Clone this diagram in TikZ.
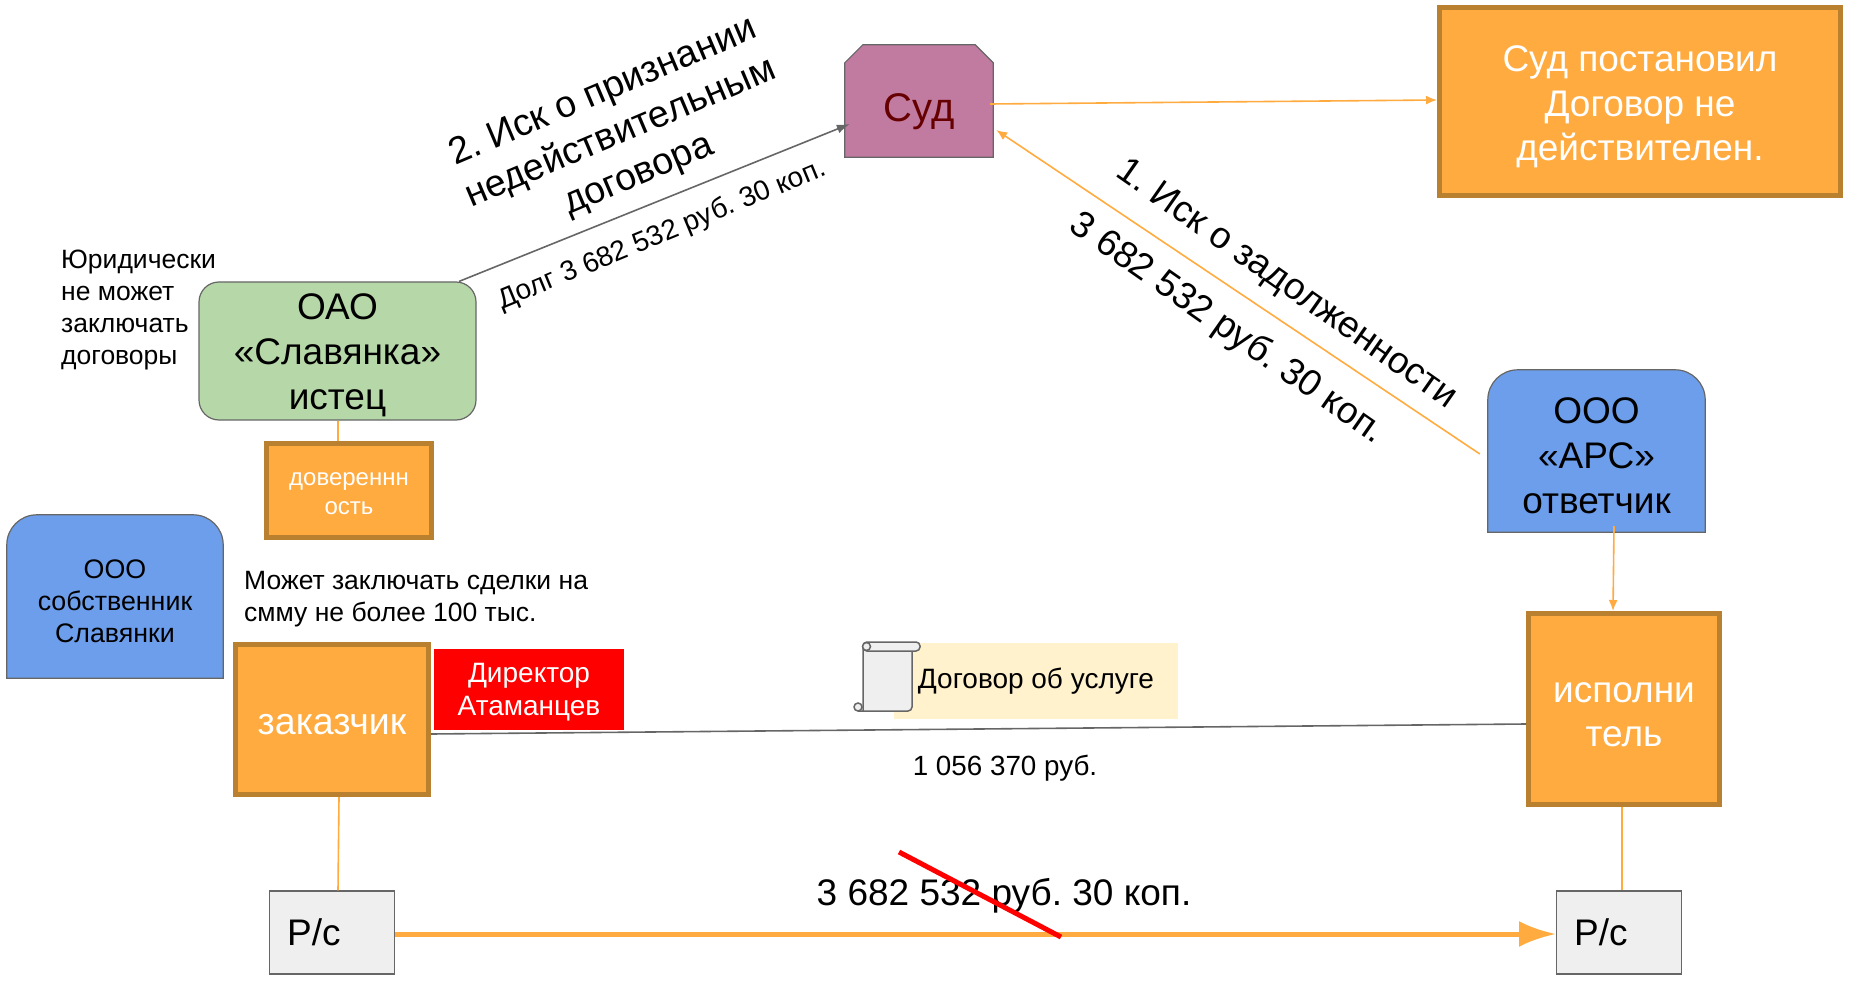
\documentclass[tikz,border=0pt]{standalone}
\usepackage{fontspec}
\setmainfont{Liberation Sans}
\usetikzlibrary{arrows.meta,backgrounds}
\definecolor{orangefill}{HTML}{FFAB40}
\definecolor{orangeedge}{HTML}{B9812F}
\definecolor{greyedge}{HTML}{666666}
\definecolor{courtfill}{HTML}{C27BA0}
\definecolor{courttext}{HTML}{660000}
\definecolor{greenfill}{HTML}{B6D7A8}
\definecolor{bluefill}{HTML}{6D9EEB}
\definecolor{paperfill}{HTML}{EFEFEF}
\definecolor{notefill}{HTML}{FFF2CC}
\newcommand{\lowered}[1]{\rule{0pt}{#1em}}
\begin{document}
\frenchspacing
\begin{tikzpicture}[
        x=1pt, y=-1pt,
        % boxes
        orangebox/.style={
            rectangle,
            draw=orangeedge,
            fill=orangefill,
            line width=5pt,
            text=white,
            align=center,
            inner sep=0pt
        },
        paperbox/.style={
            rectangle,
            draw=greyedge,
            fill=paperfill,
            line width=1.2pt,
            minimum width=125pt,
            minimum height=83pt,
            inner xsep=10pt,
            text width=90pt,
            align=left,
            font=\fontsize{37}{45}\selectfont
        },
        bluebox/.style={
            draw=greyedge,
            fill=bluefill,
            line width=1.2pt,
            rounded corners=30pt
        },
        % text
        bigtext/.style={font=\fontsize{37}{45}\selectfont, align=center, inner sep=0pt},
        smalltext/.style={font=\fontsize{26.5}{32}\selectfont, align=left, inner sep=0pt},
        % connectors
        orangeline/.style={draw=orangefill, line width=1.6pt},
        orangearrow/.style={orangeline, -{Latex[length=11pt,width=9pt]}},
        greyline/.style={draw=greyedge, line width=1.6pt}
    ]
    \useasboundingbox (0,0) rectangle (1865,984);

    % --- top row ---
    \node[text=courttext, inner sep=0pt, minimum width=148pt, minimum height=112pt,
          font=\fontsize{40}{45}\selectfont] (sud) at (919,101) {\lowered{1.25}Суд};
    \begin{scope}[on background layer]
        \draw[draw=greyedge, fill=courtfill, line width=1.2pt] (sud.south west)
            -- ([yshift=-18pt]sud.north west) -- ([xshift=18pt]sud.north west)
            -- ([xshift=-18pt]sud.north east) -- ([yshift=-18pt]sud.north east)
            -- (sud.south east) -- cycle;
    \end{scope}
    \node[orangebox, minimum width=401pt, minimum height=188pt,
          font=\fontsize{37}{44.5}\selectfont] (result) at (1640,102)
        {\lowered{0.97}Суд постановил\\Договор не\\действителен.};

    % --- plaintiff ---
    \node[rectangle, rounded corners=20pt, draw=greyedge, fill=greenfill, line width=1.2pt,
          minimum width=277pt, minimum height=138pt, align=center, inner sep=0pt,
          font=\fontsize{37}{45}\selectfont] (oao) at (337.5,351)
        {\lowered{0.92}ОАО\\«Славянка»\\истец};
    \node[orangebox, minimum width=165pt, minimum height=94pt,
          font=\fontsize{24}{28.5}\selectfont] (proxy) at (349,490.5)
        {\lowered{0.81}довереннн\\ость};
    \node[smalltext, anchor=north west] (nolaw) at (61,250)
        {Юридически\\не может\\заключать\\договоры};

    % --- owner and director ---
    \node[font=\fontsize{26.8}{32}\selectfont, align=center, inner sep=0pt,
          minimum width=216pt, minimum height=163pt] (owner) at (115,596.5)
        {\lowered{1.08}ООО\\собственник\\Славянки};
    \begin{scope}[on background layer]
        \draw[bluebox] (owner.south west) -- (owner.north west) -- (owner.north east)
            [sharp corners] -- (owner.south east) -- cycle;
    \end{scope}
    \node[smalltext, anchor=north west] (limit) at (244,571)
        {Может заключать сделки на\\смму не более 100 тыс.};
    \node[orangebox, minimum width=193pt, minimum height=150pt,
          font=\fontsize{37.5}{44}\selectfont] (client) at (332,719.5) {\lowered{0.81}заказчик};
    \node[fill=red, text=white, align=center, inner sep=0pt, minimum width=190pt,
          minimum height=81pt, font=\fontsize{28}{33}\selectfont] (director) at (529,689.5)
        {\lowered{0.89}Директор\\Атаманцев};

    % --- defendant ---
    \node[font=\fontsize{37}{45}\selectfont, align=center, inner sep=0pt,
          minimum width=217pt, minimum height=162pt] (ars) at (1596.5,451)
        {\lowered{0.97}ООО\\«АРС»\\ответчик};
    \begin{scope}[on background layer]
        \draw[bluebox] (ars.south west) -- (ars.north west) -- (ars.north east)
            [sharp corners] -- (ars.south east) -- cycle;
    \end{scope}
    \node[orangebox, minimum width=191pt, minimum height=191pt,
          font=\fontsize{37}{44}\selectfont] (contractor) at (1624,709)
        {\lowered{0.84}исполни\\тель};

    % --- accounts ---
    \node[paperbox, anchor=west] (accleft) at (269,932.5) {Р/с};
    \node[paperbox, anchor=west] (accright) at (1556,932.5) {Р/с};

    % --- contract note with scroll ---
    \node[fill=notefill, inner sep=0pt, minimum width=284pt, minimum height=76pt,
          font=\fontsize{28}{33}\selectfont] (contract) at (1036,681) {Договор об услуге};
    \begin{scope}[draw=greyedge, fill=paperfill, line width=1.5pt]
        \filldraw (863,647) -- (863,711) -- (858,711) -- (908,711) arc (90:0:4) -- (912,648) -- cycle;
        \filldraw[rounded corners=4pt] (863,642) rectangle (920,651);
        \filldraw (866.5,646.5) circle (4);
        \filldraw (858,707) circle (4);
    \end{scope}

    % --- labels ---
    \node[bigtext, font=\fontsize{37.6}{45}\selectfont, rotate=23] (claimtwo) at (621,134)
        {2. Иск о признании\\недействительным\\договора};
    \node[font=\fontsize{28}{32}\selectfont, rotate=22.5] (debt) at (662,235)
        {Долг 3 682 532 руб. 30 коп.};
    \node[bigtext, rotate=-35] (claimone) at (1286,285) {1. Иск о задолженности};
    \node[bigtext, rotate=-35] (claimsum) at (1227,329) {3 682 532 руб. 30 коп.};
    \node[font=\fontsize{27.8}{32}\selectfont] (price) at (1005,768) {1 056 370 руб.};
    \node[bigtext] (paysum) at (1004,896) {3 682 532 руб. 30 коп.};

    % --- connectors ---
    \draw[orangearrow] ([yshift=-3pt,xshift=-3pt]sud.east) -- ([yshift=2pt]result.west);
    \draw[orangearrow] ([xshift=-8pt,yshift=-3pt]ars.west) -- ([xshift=3pt,yshift=-29pt]sud.east);
    \draw[greyedge, line width=1.6pt, -{Latex[length=13pt,width=9pt]}]
        ([xshift=-17.5pt]oao.north east) -- ([xshift=5pt,yshift=-23pt]sud.west);
    \draw[orangeline] ([xshift=0.5pt]oao.south) -- ([xshift=-11pt]proxy.north);
    \draw[greyline] ([yshift=-14.5pt]client.east) -- ([yshift=-15pt]contractor.west);
    \draw[orangeline] ([xshift=7pt]client.south) -- ([xshift=69pt]accleft.north west);
    \draw[orangeline] ([xshift=-2pt]contractor.south) -- ([xshift=66pt]accright.north west);
    \draw[orangearrow] ([xshift=17.5pt,yshift=6pt]ars.south) -- ([xshift=-11pt]contractor.north);
    \draw[draw=orangefill, line width=5pt, -{Latex[length=37pt,width=26pt]}]
        ([yshift=-1.5pt]accleft.east) -- ([yshift=-1.5pt]accright.west);
    \coordinate (strikeA) at (899,852);
    \coordinate (strikeB) at (1061,937);
    \draw[red, line width=5pt] (strikeA) -- (strikeB);
\end{tikzpicture}
\end{document}
